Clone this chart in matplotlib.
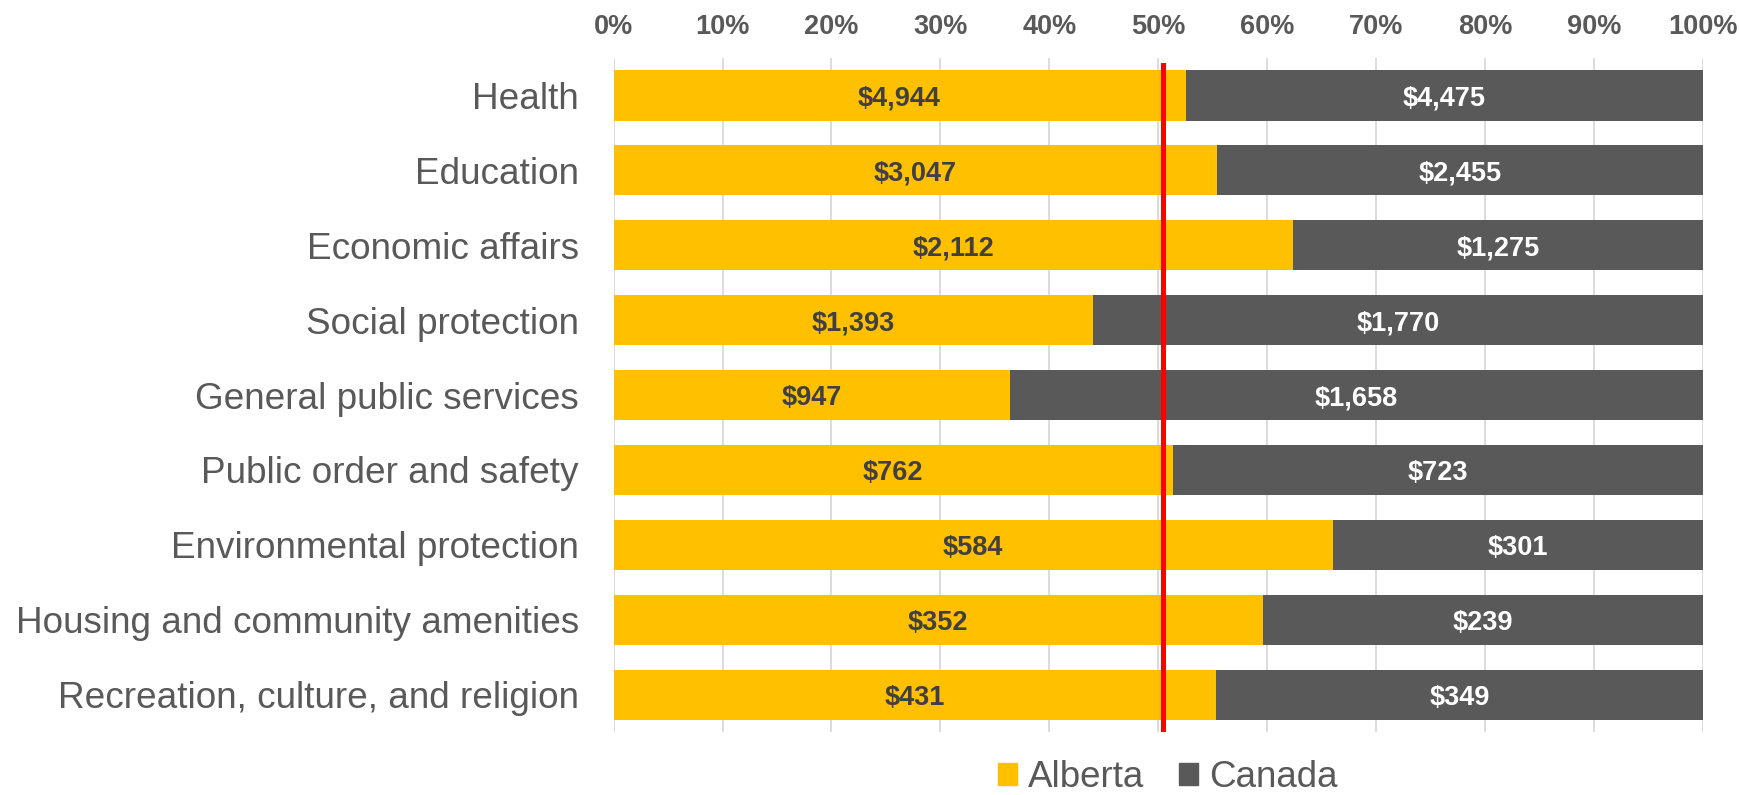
import matplotlib
matplotlib.use("Agg")
import matplotlib.pyplot as plt
import numpy as np
from matplotlib.patches import Patch

plt.rcParams["font.family"] = ["Liberation Sans", "DejaVu Sans"]

categories = [
    "Health",
    "Education",
    "Economic affairs",
    "Social protection",
    "General public services",
    "Public order and safety",
    "Environmental protection",
    "Housing and community amenities",
    "Recreation, culture, and religion",
]
alberta = [4944, 3047, 2112, 1393, 947, 762, 584, 352, 431]
canada = [4475, 2455, 1275, 1770, 1658, 723, 301, 239, 349]
ref_line_pct = 50.4
x_ticks = list(range(0, 101, 10))

GOLD = "#FFC000"
DARK = "#595959"
TEXT = "#595959"

ab = np.array(alberta, dtype=float)
ca = np.array(canada, dtype=float)
total = ab + ca
ab_pct = ab / total * 100
ca_pct = ca / total * 100
y = np.arange(len(categories))

fig = plt.figure(figsize=(17.4, 7.95), dpi=100)
ax = fig.add_axes([0.3526, 0.079, 0.6263, 0.8481])

ax.barh(y, ab_pct, height=0.67, color=GOLD, zorder=2)
ax.barh(y, ca_pct, left=ab_pct, height=0.67, color=DARK, zorder=2)

for i in range(len(categories)):
    ax.text(ab_pct[i] / 2, y[i], f"${alberta[i]:,}", ha="center", va="center_baseline",
            fontsize=19.5, fontweight="bold", color="#404040", zorder=3)
    ax.text(ab_pct[i] + ca_pct[i] / 2, y[i], f"${canada[i]:,}", ha="center",
            va="center_baseline", fontsize=19.5, fontweight="bold", color="white", zorder=3)

ax.axvline(ref_line_pct, ymin=0.005, ymax=0.99, color="#FF0000", lw=3.6, zorder=4)

ax.set_xlim(0, 100)
ax.set_ylim(len(categories) - 0.5, -0.5)
ax.set_xticks(x_ticks)
ax.set_xticklabels([f"{t}%" for t in x_ticks], fontsize=19.5, fontweight="bold", color=TEXT)
ax.xaxis.tick_top()
ax.set_yticks(y)
ax.set_yticklabels(categories, fontsize=26.6, color=TEXT)
ax.tick_params(axis="x", length=0, pad=13)
ax.tick_params(axis="y", length=0, pad=25)
ax.grid(axis="x", color="#D9D9D9", lw=1.3, zorder=0)
ax.set_axisbelow(True)
for s in ax.spines.values():
    s.set_visible(False)

handles = [Patch(color=GOLD, label="Alberta"), Patch(color=DARK, label="Canada")]
leg = fig.legend(handles=handles, loc="center", bbox_to_anchor=(0.671, 0.022), ncol=2,
                 frameon=False, fontsize=26.5, handlelength=0.53, handleheight=0.53,
                 handletextpad=0.28, columnspacing=0.95, borderpad=0.1)
for t in leg.get_texts():
    t.set_color(TEXT)

fig.savefig("out.png", dpi=100)
